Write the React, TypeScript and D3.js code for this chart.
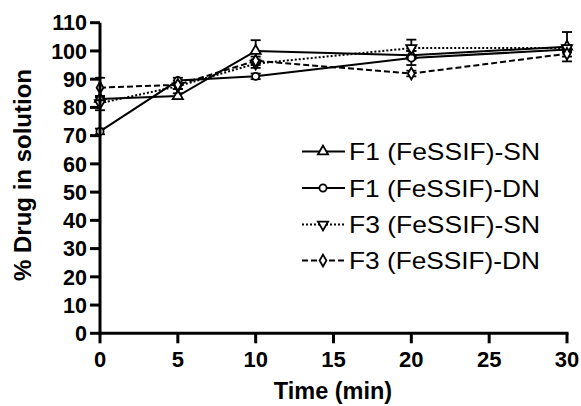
import React from "react";
import * as d3 from "d3";

// data
const times = [0, 5, 10, 20, 30];
const f1SN = [83, 84, 100, 98.5, 101.5];
const f1DN = [71.5, 89.5, 91, 97.5, 100.5];
const f3SN = [81.5, 87.5, 95.5, 101, 101];
const f3DN = [87, 88, 96.5, 92, 99];
const f1SNerr = [1, 1, 3.8, 1.5, 5.2];
const f1DNerr = [1, 1, 1, 2.5, 1];
const f3SNerr = [2.5, 1, 1.5, 3, 1];
const f3DNerr = [3.5, 1.5, 1.5, 1, 1];

const seriesNames = ["F1 (FeSSIF)-SN", "F1 (FeSSIF)-DN", "F3 (FeSSIF)-SN", "F3 (FeSSIF)-DN"];
const yTicks = [0, 10, 20, 30, 40, 50, 60, 70, 80, 90, 100, 110];
const xTicks = [0, 5, 10, 15, 20, 25, 30];

const W = 581;
const H = 406;
const FONT = "'Liberation Sans', Arial, sans-serif";

const series = [
  { name: seriesNames[0], values: f1SN, err: f1SNerr, dash: "none", marker: "triUp" },
  { name: seriesNames[1], values: f1DN, err: f1DNerr, dash: "none", marker: "circle" },
  { name: seriesNames[2], values: f3SN, err: f3SNerr, dash: "2,2", marker: "triDown" },
  { name: seriesNames[3], values: f3DN, err: f3DNerr, dash: "6,3", marker: "diamond" },
];

function markerPath(kind: string) {
  if (kind === "circle") return d3.symbol(d3.symbolCircle, 40)();
  if (kind === "diamond") return d3.symbol(d3.symbolDiamond, 40)();
  return d3.symbol(d3.symbolTriangle, 45)();
}

function Marker({ kind, x, y }: { kind: string; x: number; y: number }) {
  const rot = kind === "triDown" ? " rotate(180)" : "";
  return (
    <path
      d={markerPath(kind) || ""}
      transform={`translate(${x},${y})${rot}`}
      fill="white"
      stroke="black"
      strokeWidth={1.8}
    />
  );
}

export default function App() {
  const x = d3.scaleLinear().domain([0, 30]).range([100, 567]);
  const y = d3.scaleLinear().domain([0, 110]).range([333.3, 22.7]);

  const line = d3
    .line<number>()
    .x((_, i) => x(times[i]))
    .y((d) => y(d));

  const legendY = [151.5, 188, 224.5, 260.5];

  return (
    <div style={{ position: "fixed", left: 0, top: 0 }}>
      <svg width={W} height={H} viewBox={`0 0 ${W} ${H}`} style={{ display: "block", background: "white" }}>
        {/* series lines */}
        {series.map((s) => (
          <path
            key={s.name}
            d={line(s.values) || ""}
            fill="none"
            stroke="black"
            strokeWidth={2}
            strokeDasharray={s.dash}
          />
        ))}

        {/* error bars */}
        {series.map((s) =>
          s.values.map((v, i) => {
            const cx = x(times[i]);
            const top = y(v + s.err[i]);
            const bot = y(v - s.err[i]);
            return (
              <g key={s.name + i} stroke="black" strokeWidth={1.8}>
                <line x1={cx} x2={cx} y1={top} y2={bot} />
                <line x1={cx - 5} x2={cx + 5} y1={top} y2={top} />
                <line x1={cx - 5} x2={cx + 5} y1={bot} y2={bot} />
              </g>
            );
          })
        )}

        {/* markers */}
        {series.map((s) =>
          s.values.map((v, i) => <Marker key={s.name + "m" + i} kind={s.marker} x={x(times[i])} y={y(v)} />)
        )}

        {/* y axis */}
        <line x1={100} x2={100} y1={y(110)} y2={y(0) + 1.5} stroke="black" strokeWidth={3} />
        {yTicks.map((t) => (
          <g key={"y" + t}>
            <line x1={90} x2={100} y1={y(t)} y2={y(t)} stroke="black" strokeWidth={3} />
            <text
              x={87}
              y={y(t)}
              dy="0.36em"
              textAnchor="end"
              fontFamily={FONT}
              fontWeight="bold"
              fontSize={21.5}
            >
              {t}
            </text>
          </g>
        ))}

        {/* x axis */}
        <line x1={98.5} x2={x(30) + 1.5} y1={y(0)} y2={y(0)} stroke="black" strokeWidth={3} />
        {xTicks.map((t) => (
          <g key={"x" + t}>
            <line x1={x(t)} x2={x(t)} y1={y(0)} y2={y(0) + 10} stroke="black" strokeWidth={3} />
            <text x={x(t)} y={367} textAnchor="middle" fontFamily={FONT} fontWeight="bold" fontSize={22}>
              {t}
            </text>
          </g>
        ))}

        {/* axis titles */}
        <text
          transform="translate(22,175) rotate(-90)"
          dy="0.36em"
          textAnchor="middle"
          fontFamily={FONT}
          fontWeight="bold"
          fontSize={24}
        >
          % Drug in solution
        </text>
        <text x={333} y={399} textAnchor="middle" fontFamily={FONT} fontWeight="bold" fontSize={23.5}>
          Time (min)
        </text>

        {/* legend */}
        {series.map((s, i) => (
          <g key={"leg" + s.name}>
            <line
              x1={302}
              x2={345}
              y1={legendY[i]}
              y2={legendY[i]}
              stroke="black"
              strokeWidth={2}
              strokeDasharray={s.dash}
            />
            <Marker kind={s.marker} x={323} y={legendY[i]} />
            <text
              x={349}
              y={legendY[i]}
              dy="0.36em"
              fontFamily={FONT}
              fontSize={24}
              textLength={191}
              lengthAdjust="spacingAndGlyphs"
            >
              {s.name}
            </text>
          </g>
        ))}
      </svg>
    </div>
  );
}
